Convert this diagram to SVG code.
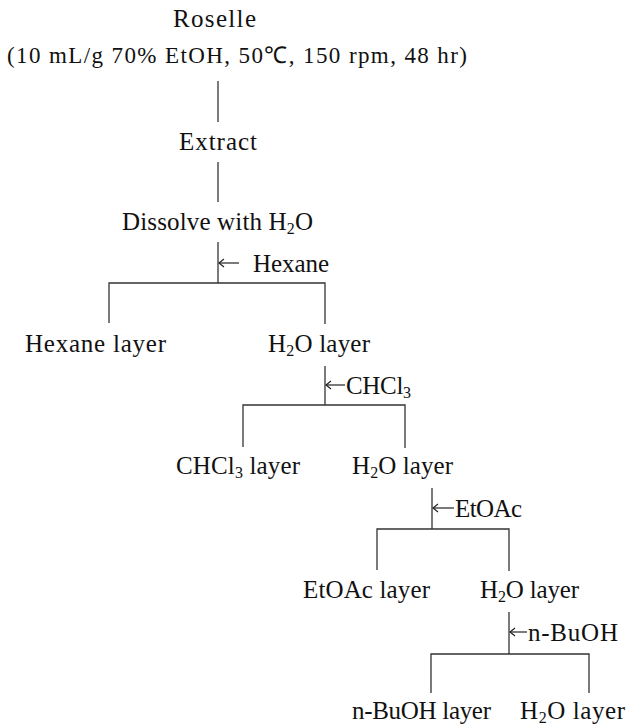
<svg xmlns="http://www.w3.org/2000/svg" width="633" height="726" viewBox="0 0 633 726">
<defs>
<style>
text{font-family:"Liberation Serif","Times New Roman",serif;font-size:25px;fill:#111;}
.t23{font-size:23px;}
.sub{font-size:16px;}
.ln{stroke:#333;stroke-width:1.3;fill:none;}
.ar{stroke:#222;stroke-width:1.2;fill:none;}
</style>
<marker id="ah" markerWidth="10" markerHeight="10" refX="6" refY="5" orient="auto" markerUnits="userSpaceOnUse">
<path d="M1,1 L6,5 L1,9" stroke="#222" stroke-width="1.2" fill="none"/>
</marker>
</defs>
<rect width="633" height="726" fill="#fff"/>

<g id="connectors">
<line class="ln" x1="218" y1="81" x2="218" y2="122"/>
<line class="ln" x1="218" y1="162" x2="218" y2="202"/>
<line class="ln" x1="218" y1="242" x2="218" y2="283"/>
<polyline class="ln" points="109,323 109,283 325,283 325,324"/>
<line class="ar" x1="239" y1="263" x2="219" y2="263" marker-end="url(#ah)"/>

<line class="ln" x1="325" y1="366" x2="325" y2="405"/>
<polyline class="ln" points="243,447 243,405 405,405 405,448"/>
<line class="ar" x1="345" y1="385" x2="326" y2="385" marker-end="url(#ah)"/>

<line class="ln" x1="432" y1="488" x2="432" y2="529"/>
<polyline class="ln" points="377,570 377,529 509,529 509,571"/>
<line class="ar" x1="454" y1="508" x2="433" y2="508" marker-end="url(#ah)"/>

<line class="ln" x1="509" y1="612" x2="509" y2="654"/>
<polyline class="ln" points="431,693 431,654 589,654 589,693"/>
<line class="ar" x1="527" y1="632" x2="510" y2="632" marker-end="url(#ah)"/>
</g>

<g id="roselle">
<text x="173" y="27" textLength="83" lengthAdjust="spacing">Roselle</text>
<text class="t23" x="7" y="63" textLength="460" lengthAdjust="spacing">(10 mL/g 70% EtOH, 50℃, 150 rpm, 48 hr)</text>
</g>
<g id="extract">
<text x="179" y="150" textLength="78" lengthAdjust="spacing">Extract</text>
</g>
<g id="dissolve">
<text x="122" y="230" textLength="191" lengthAdjust="spacing">Dissolve with H<tspan class="sub" dy="4">2</tspan><tspan dy="-4">O</tspan></text>
</g>
<g id="hexane-add">
<text x="253" y="272" textLength="76" lengthAdjust="spacing">Hexane</text>
</g>
<g id="hexane-layer">
<text x="25" y="352" textLength="141" lengthAdjust="spacing">Hexane layer</text>
</g>
<g id="h2o-layer-1">
<text x="268" y="352" textLength="102" lengthAdjust="spacing">H<tspan class="sub" dy="4">2</tspan><tspan dy="-4">O layer</tspan></text>
</g>
<g id="chcl3-add">
<text x="346" y="394" textLength="65" lengthAdjust="spacing">CHCl<tspan class="sub" dy="4">3</tspan></text>
</g>
<g id="chcl3-layer">
<text x="176" y="474" textLength="124" lengthAdjust="spacing">CHCl<tspan class="sub" dy="4">3</tspan><tspan dy="-4"> layer</tspan></text>
</g>
<g id="h2o-layer-2">
<text x="352" y="474" textLength="101" lengthAdjust="spacing">H<tspan class="sub" dy="4">2</tspan><tspan dy="-4">O layer</tspan></text>
</g>
<g id="etoac-add">
<text x="455" y="517" textLength="67" lengthAdjust="spacing">EtOAc</text>
</g>
<g id="etoac-layer">
<text x="303" y="598" textLength="127" lengthAdjust="spacing">EtOAc layer</text>
</g>
<g id="h2o-layer-3">
<text x="480" y="598" textLength="99" lengthAdjust="spacing">H<tspan class="sub" dy="4">2</tspan><tspan dy="-4">O layer</tspan></text>
</g>
<g id="buoh-add">
<text x="528" y="641" textLength="90" lengthAdjust="spacing">n-BuOH</text>
</g>
<g id="buoh-layer">
<text x="352" y="719" textLength="139" lengthAdjust="spacing">n-BuOH layer</text>
</g>
<g id="h2o-layer-4">
<text x="520" y="719" textLength="105" lengthAdjust="spacing">H<tspan class="sub" dy="4">2</tspan><tspan dy="-4">O layer</tspan></text>
</g>
</svg>
